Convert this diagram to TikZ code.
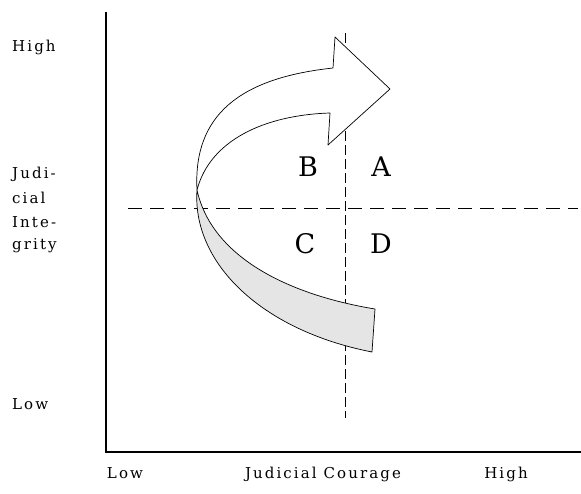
\documentclass[tikz,border=0pt]{standalone}
\usepackage{fontspec}
\setmainfont{DejaVu Serif}
\newfontfamily\lblfont[LetterSpace=14]{DejaVu Serif}
\begin{document}
\begin{tikzpicture}[x=1pt,y=-1pt,
  lbl/.style={font=\lblfont\fontsize{15}{17}\selectfont, inner sep=0pt},
  quad/.style={font=\fontsize{27}{29}\selectfont, inner sep=0pt},
  axisline/.style={line width=2.8pt},
  hdash/.style={dash pattern=on 14pt off 8pt, line width=0.9pt},
  vdash/.style={dash pattern=on 10pt off 4pt, line width=0.9pt},
  ribbon/.style={line width=0.7pt, line join=round}]
\useasboundingbox (0,0) rectangle (581,493);
% axes
\coordinate (ytop) at (106,12);
\coordinate (orig) at (106,452);
\coordinate (xend) at (581,452);
\draw[axisline] (ytop) -- (orig) -- (xend);
% dashed quadrant lines
\coordinate (hl) at (128,208);
\coordinate (hr) at (578,208);
\coordinate (vt) at (345,33);
\coordinate (vb) at (345,418);
\draw[hdash] (hl) -- (hr);
\draw[vdash] (vt) -- (vb);
% shaded lower band
\coordinate (tw) at (197,190);
\filldraw[ribbon, fill=gray!20]
  (tw) .. controls (212,258) and (290,295) .. (375,309)
  -- (372,352)
  .. controls (260,330) and (192,262) .. (tw) -- cycle;
% white arrow
\filldraw[ribbon, fill=white]
  (333,68) -- (335,37) -- (390,89) -- (328,145) -- (330,113)
  .. controls (265,115) and (210,140) .. (tw)
  .. controls (193,115) and (240,78) .. (333,68) -- cycle;
% quadrant letters
\node[quad] (B) at (308,167) {B};
\node[quad] (A) at (381,167) {A};
\node[quad] (C) at (305,244) {C};
\node[quad] (D) at (381,244) {D};
% y labels
\node[lbl, anchor=west] (yhigh) at (12,47) {High};
\node[lbl, anchor=west] (yl1) at (12,174) {Judi-};
\node[lbl, anchor=west] (yl2) at (12,198) {cial};
\node[lbl, anchor=west] (yl3) at (12,222) {Inte-};
\node[lbl, anchor=west] (yl4) at (12,246) {grity};
\node[lbl, anchor=west] (ylow) at (12,404) {Low};
% x labels
\node[lbl, anchor=base] (xlow) at (125,478) {Low};
\node[lbl, anchor=base] (xlab) at (323,478) {Judicial Courage};
\node[lbl, anchor=base] (xhigh) at (506,478) {High};
\end{tikzpicture}
\end{document}
